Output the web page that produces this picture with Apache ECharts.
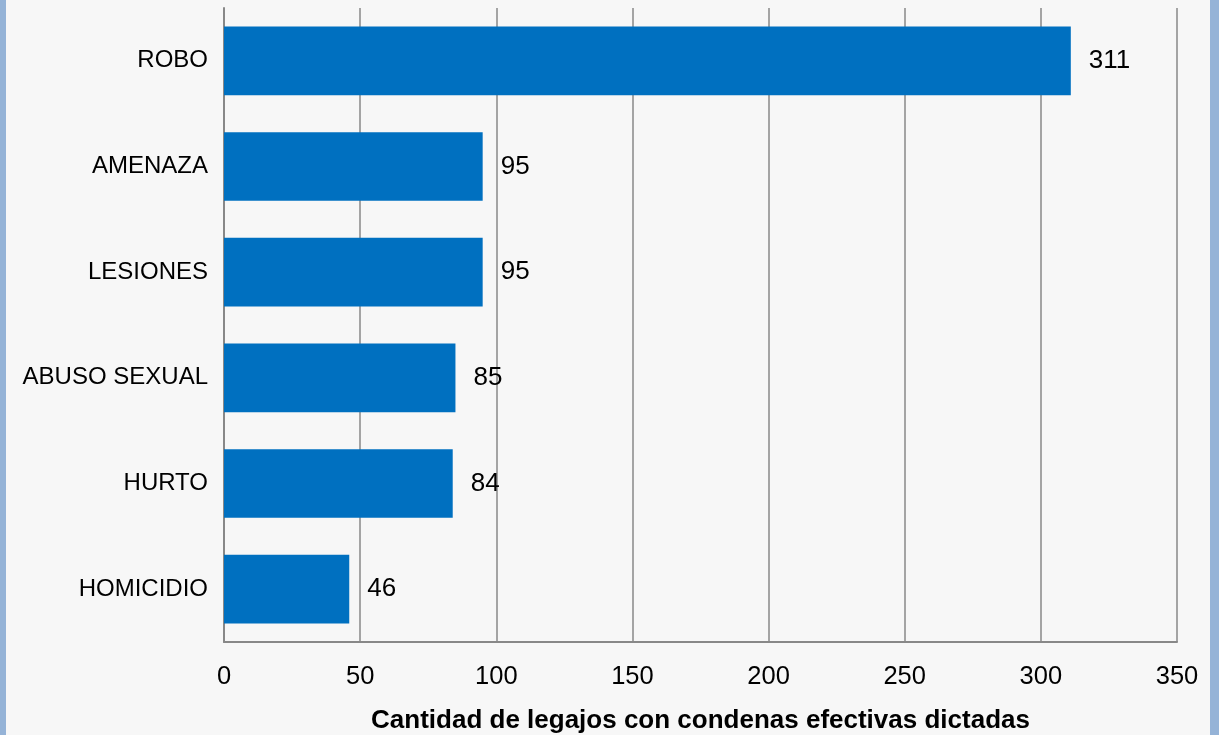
<!DOCTYPE html>
<html>
<head>
<meta charset="utf-8">
<script src="https://cdn.jsdelivr.net/npm/echarts@6/dist/echarts.min.js"></script>
<style>
html,body{margin:0;padding:0;}
#wrap{position:relative;width:1219px;height:735px;background:#f7f7f7;overflow:hidden;}
#l{position:absolute;left:0;top:0;width:6px;height:735px;background:#95b3d7;}
#r{position:absolute;left:1210px;top:0;width:9px;height:735px;background:#95b3d7;}
#c{position:absolute;left:0;top:0;width:1219px;height:735px;}
</style>
</head>
<body>
<div id="wrap"><div id="l"></div><div id="r"></div><div id="c"></div></div>
<script>
var categories = ['ROBO', 'AMENAZA', 'LESIONES', 'ABUSO SEXUAL', 'HURTO', 'HOMICIDIO'];
var values = [311, 95, 95, 85, 84, 46];
var axisName = 'Cantidad de legajos con condenas efectivas dictadas';

var chart = echarts.init(document.getElementById('c'));
chart.setOption({
  backgroundColor: 'transparent',
  animation: false,
  grid: {left: 224, right: 42, top: 8, bottom: 93, containLabel: false, outerBoundsMode: 'none'},
  xAxis: {
    type: 'value', min: 0, max: 350, interval: 50,
    name: axisName, nameLocation: 'middle', nameGap: 66,
    nameTextStyle: {fontFamily: 'Liberation Sans', fontSize: 26, fontWeight: 'bold', color: '#000'},
    axisLine: {show: true, lineStyle: {color: '#888', width: 2}},
    axisTick: {show: false},
    axisLabel: {fontFamily: 'Liberation Sans', fontSize: 25.5, color: '#000', margin: 22},
    splitLine: {show: true, lineStyle: {color: '#888', width: 1.5}}
  },
  yAxis: {
    type: 'category', data: categories, inverse: true,
    axisLine: {show: true, lineStyle: {color: '#888', width: 2}},
    axisTick: {show: false},
    axisLabel: {fontFamily: 'Liberation Sans', fontSize: 24, color: '#000', margin: 16, padding: [3, 0, 0, 0]}
  },
  series: [{
    type: 'bar', data: values, barCategoryGap: '35%',
    itemStyle: {color: '#0070C0'},
    label: {show: true, position: 'right', distance: 18, fontFamily: 'Liberation Sans', fontSize: 26, color: '#000', padding: [4, 0, 0, 0]}
  }]
});
</script>
</body>
</html>
